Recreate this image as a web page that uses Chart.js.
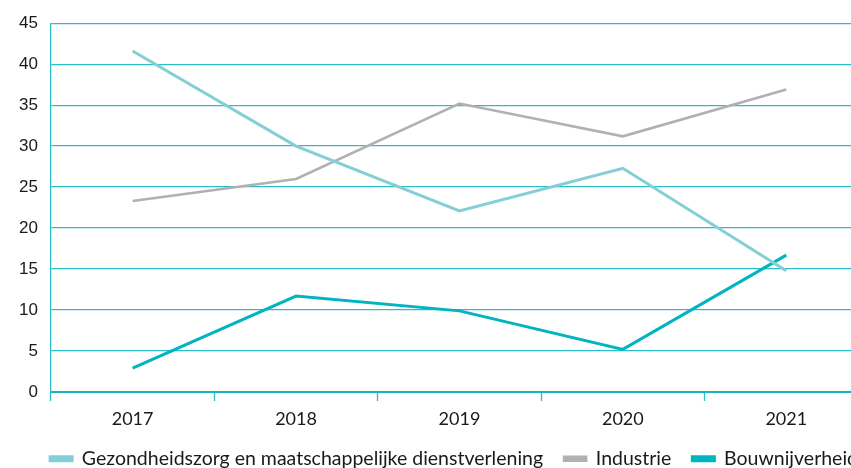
<!DOCTYPE html>
<html lang="nl">
<head>
  <meta charset="UTF-8" />
  <title>Sectoren 2017-2021</title>
  <script src="https://cdn.jsdelivr.net/npm/chart.js"></script>
  <style>
    html, body {
      margin: 0;
      padding: 0;
      background: #fff;
      overflow: hidden;
    }
    .wrap {
      position: relative;
      width: 879px;
      height: 468px;
    }
  </style>
</head>
<body>
  <div class="wrap">
    <canvas id="chart"></canvas>
  </div>

  <script>
    const years = ['2017', '2018', '2019', '2020', '2021'];
    const zorgValues = [41.6, 30.0, 22.1, 27.3, 14.8];
    const industrieValues = [23.3, 26.0, 35.2, 31.2, 36.9];
    const bouwValues = [2.9, 11.7, 9.9, 5.2, 16.7];
    const yTicks = [0, 5, 10, 15, 20, 25, 30, 35, 40, 45];

    const gridTeal = '#2dbdc9';

    const ctx = document.getElementById('chart').getContext('2d');
    const chart = new Chart(ctx, {
      type: 'line',
      data: {
        labels: years,
        datasets: [
          {
            label: 'Gezondheidszorg en maatschappelijke dienstverlening',
            data: zorgValues,
            borderColor: '#84ced5',
            backgroundColor: '#84ced5',
            borderWidth: 3,
            pointRadius: 0,
            tension: 0
          },
          {
            label: 'Industrie',
            data: industrieValues,
            borderColor: '#b1b1b1',
            backgroundColor: '#b1b1b1',
            borderWidth: 2.6,
            pointRadius: 0,
            tension: 0
          },
          {
            label: 'Bouwnijverheid',
            data: bouwValues,
            borderColor: '#00b4c1',
            backgroundColor: '#00b4c1',
            borderWidth: 3,
            pointRadius: 0,
            tension: 0
          }
        ]
      },
      options: {
        responsive: true,
        maintainAspectRatio: false,
        animation: false,
        layout: {
          padding: { top: 19, left: 6, right: 0, bottom: 0 }
        },
        plugins: {
          tooltip: { enabled: false },
          legend: {
            position: 'bottom',
            align: 'end',
            maxHeight: 40,
            labels: {
              boxWidth: 22,
              boxHeight: 4,
              padding: 21,
              color: '#1a1a1a',
              font: { family: 'Lato', size: 19.5 }
            }
          }
        },
        scales: {
          x: {
            offset: true,
            afterFit: scale => {
              // keep the axis band tight so the legend sits close below the labels
              scale.height = 36;
            },
            grid: {
              offset: true,
              drawOnChartArea: false,
              drawTicks: true,
              tickLength: 9,
              tickColor: gridTeal,
              tickWidth: 1.3
            },
            border: { display: true, color: '#12b7c3', width: 2 },
            ticks: {
              padding: 7,
              color: '#1a1a1a',
              font: { family: 'Lato', size: 18 }
            }
          },
          y: {
            min: 0,
            max: 45,
            afterBuildTicks: scale => {
              scale.ticks = yTicks.map(v => ({ value: v }));
            },
            grid: {
              color: gridTeal,
              lineWidth: 1.3,
              drawTicks: false
            },
            border: { display: true, color: gridTeal, width: 1.3 },
            ticks: {
              padding: 13,
              color: '#1a1a1a',
              font: { family: 'Liberation Sans', size: 17 }
            }
          },
          // empty strip on the right: the legend runs a bit past the plot edge
          yRight: {
            position: 'right',
            min: 0,
            max: 45,
            grid: { display: false },
            border: { display: false },
            ticks: { display: false },
            afterFit: scale => {
              scale.width = 11;
            }
          }
        }
      }
    });
  </script>
</body>
</html>
